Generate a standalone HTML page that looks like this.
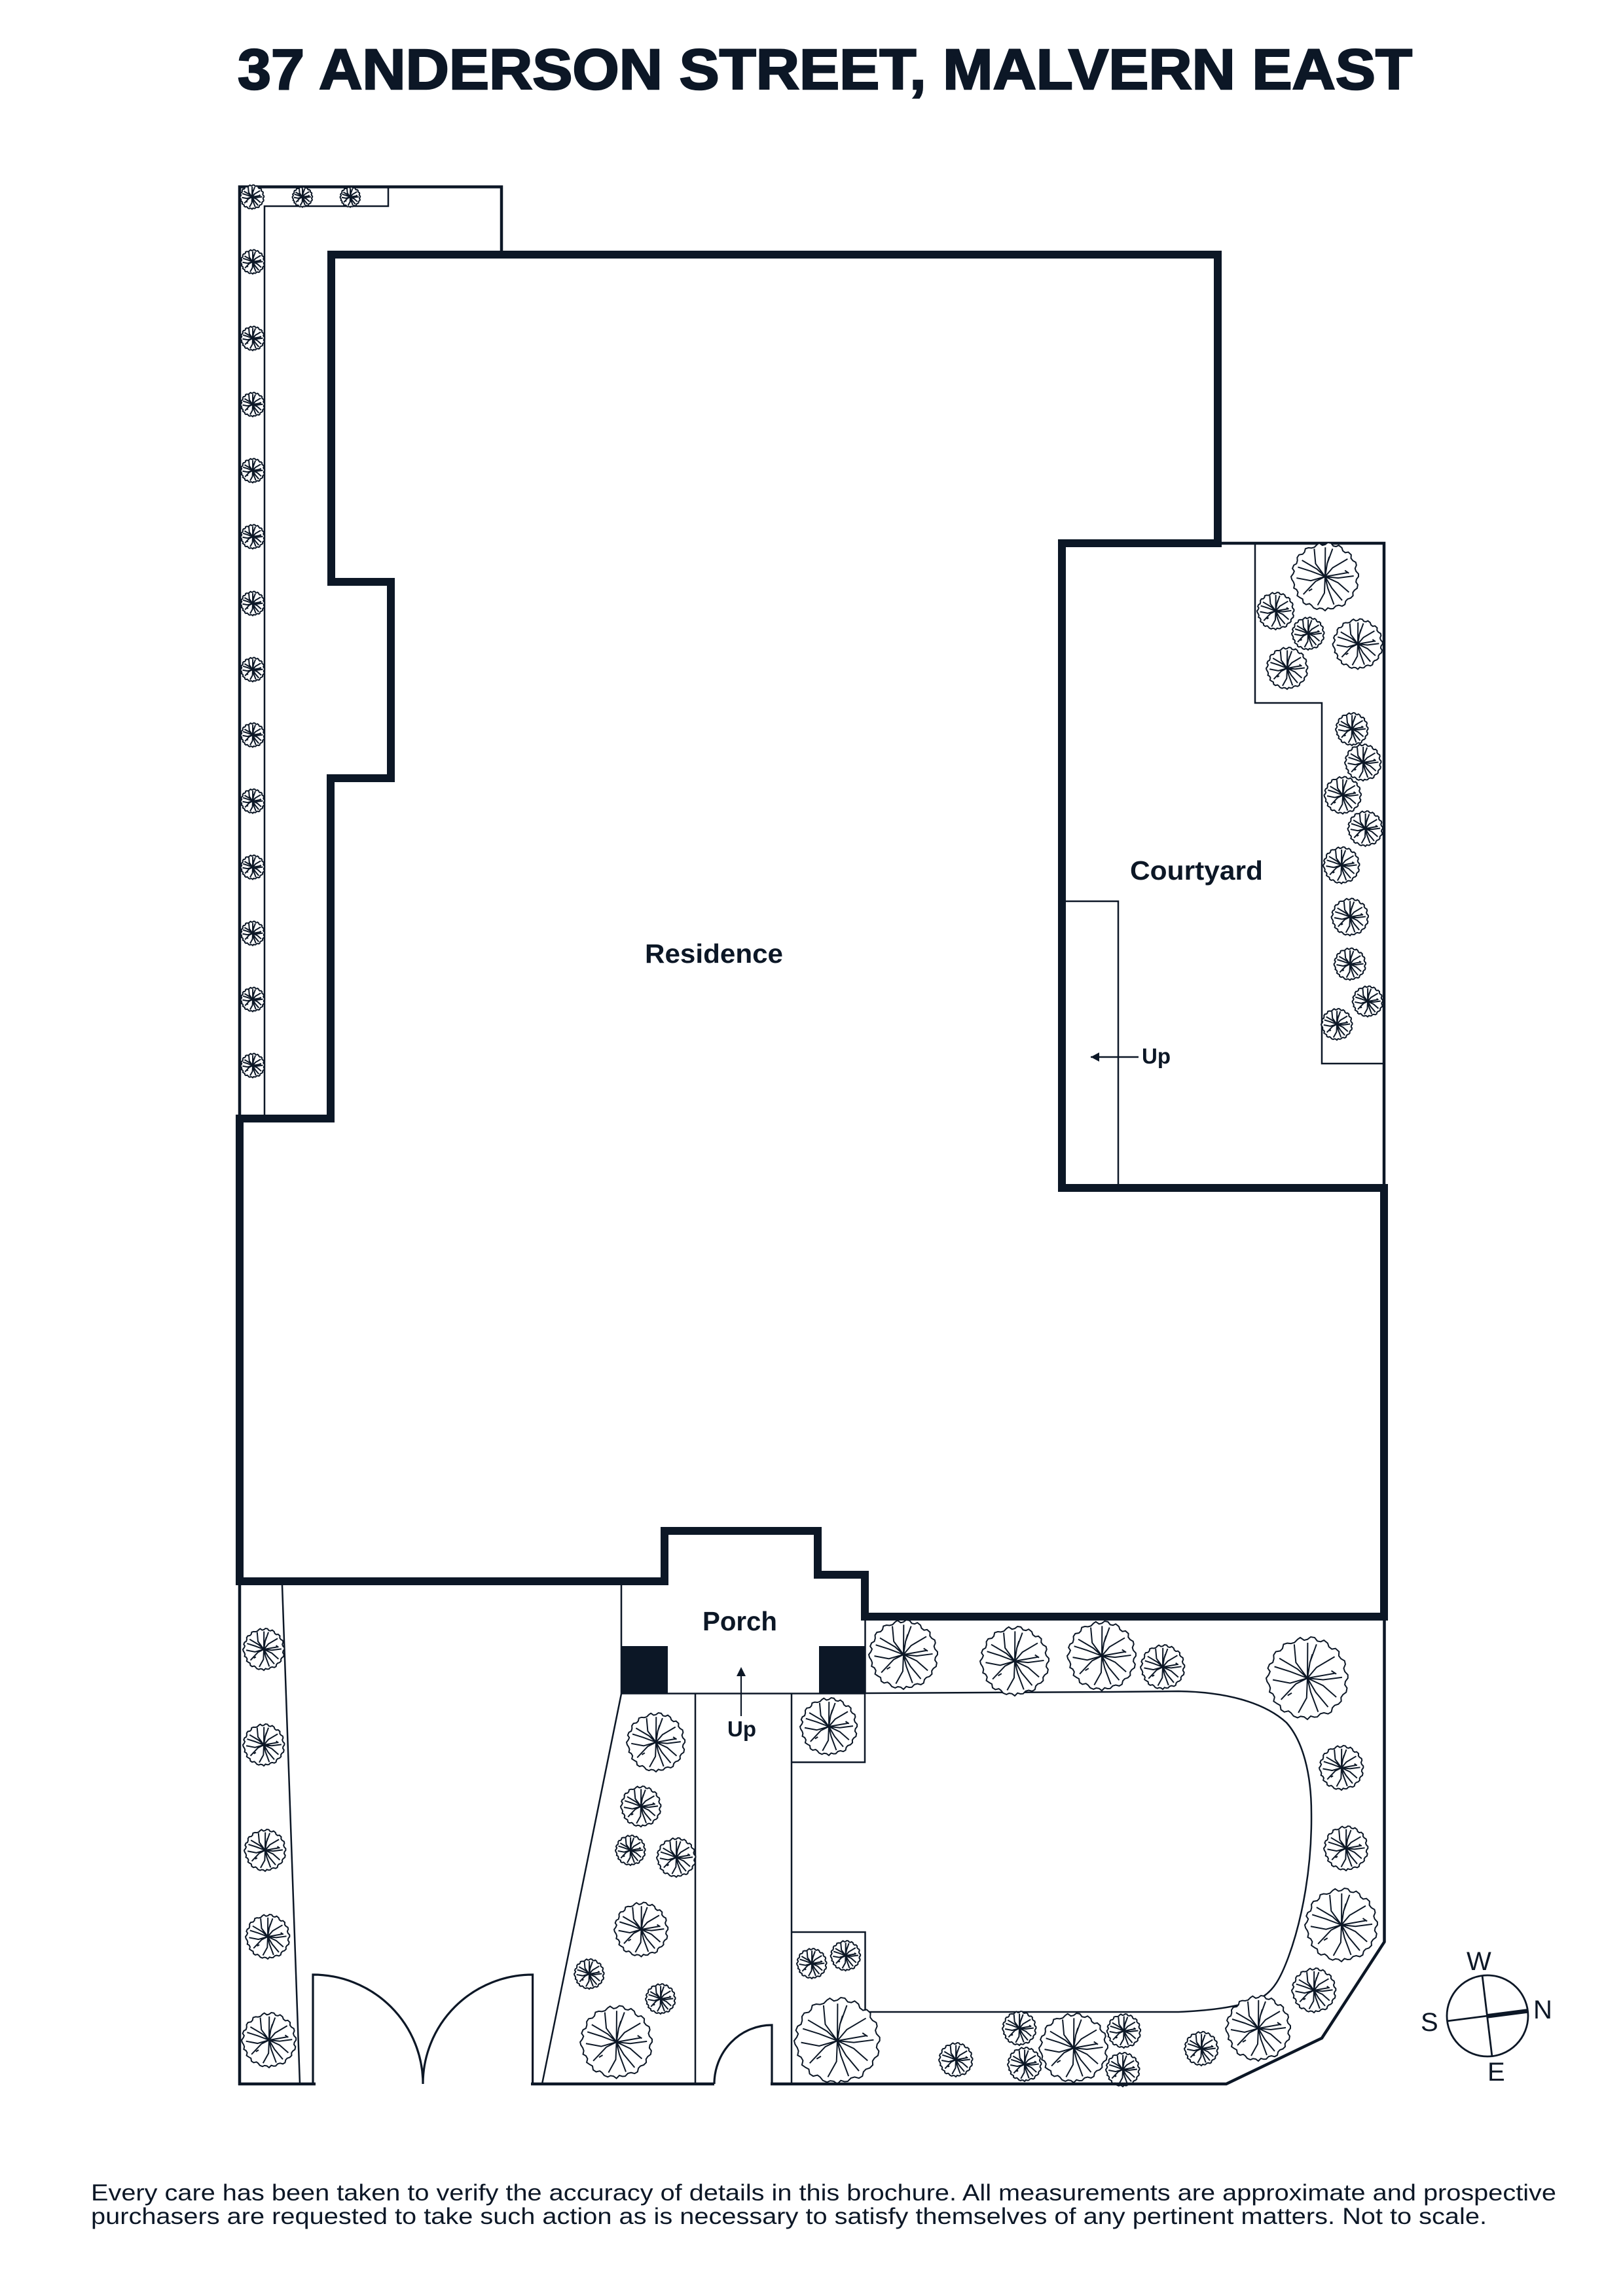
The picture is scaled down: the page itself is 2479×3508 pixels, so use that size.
<!DOCTYPE html>
<html><head><meta charset="utf-8"><title>37 Anderson Street, Malvern East</title>
<style>
html,body{margin:0;padding:0;background:#fff}
svg{display:block}
text{font-family:"Liberation Sans",sans-serif;fill:#0c1726}
.b{font-weight:700}
</style></head><body>
<svg xmlns="http://www.w3.org/2000/svg" width="2479" height="3508" viewBox="0 0 2479 3508">
<defs>
<g id="t" fill="none" stroke="#0c1726" stroke-width="2">
<polygon vector-effect="non-scaling-stroke" fill="#fff" points="49,0 46,4 45.3,8 48,12 47,17.1 43,20 40.7,23.5 41,28 37.5,31.5 33,33 30.2,36 29,41 25,43.3 20,42 15.7,43.2 12,47 8.3,47.3 4,46 0,50 -4,47 -8.2,46.3 -12,48 -16.8,46 -20,42 -23,39.8 -28,41 -32.1,38.3 -33,33 -36.8,30.9 -41,28 -39.8,23 -42,19 -46,16.8 -45,12 -46.3,8.2 -49,4 -50,0 -47,-4 -45.3,-8 -48,-12 -46,-16.8 -42,-19 -40.7,-23.5 -41,-28 -38.3,-32.1 -33,-33 -30.2,-36 -29,-41 -24.5,-42.4 -20,-42 -15.7,-43.2 -12,-47 -8.7,-49.2 -4,-46 0,-47 4,-50 8.7,-49.2 12,-45 16.1,-44.2 20,-46 24.5,-42.4 26,-38 29.6,-35.2 34,-36 38.3,-32.1 38,-27 40.7,-23.5 45,-21 46,-16.8 44,-12 45.3,-8 49,-4"/>
<path vector-effect="non-scaling-stroke" d="M0 0L-14 -19L-16 -41M0 0L0.3 -43M0 0L3 -19L11 -41M3 -19L6 -29M0 0L11 -13L33 -26M0 0L19 2L42 -1M0 0L34 -6M29 -9L35 -5M0 0L19 9L35 23M0 0L10 17L25 35M0 0L4 17L13 41M0 0L-1 24L-11 42M0 0L-14 7L-32 26M-24 21L-19 18M0 0L-21 6L-42 2M0 0L-21 -8L-40 -14M0 0L-12 -11L-34 -24"/>
</g>
</defs>

<rect width="2479" height="3508" fill="#fff"/>

<text class="b" x="363" y="136" font-size="87" textLength="1794" lengthAdjust="spacingAndGlyphs" style="stroke:#0c1726;stroke-width:2.5">37 ANDERSON STREET, MALVERN EAST</text>

<!-- thin lines -->
<g fill="none" stroke="#0c1726">
<path stroke-width="4.5" d="M366 1709V285.5H766V389"/>
<path stroke-width="2.5" d="M404 1709V315H593V285"/>
<path stroke-width="4.5" d="M1860 830H2114V1815"/>
<path stroke-width="2.5" d="M1917 830V1074H2019V1625H2114"/>
<path stroke-width="2.5" d="M1622 1377H1708V1815"/>
<path stroke-width="2.5" d="M1666 1615H1739"/>
<path stroke-width="4.5" d="M366 2416V3186"/>
<path stroke-width="2.5" d="M431 2422L458 3184"/>
<path stroke-width="2.5" d="M949 2416V2588L828 3184"/>
<path stroke-width="2.5" d="M1321.5 2470V2588"/>
<path stroke-width="2.5" d="M949 2587.5H1322"/>
<path stroke-width="2.5" d="M1062 2588V3184M1209 2588V3184M1209 2692.5H1321V2588M1209 2952H1321.5V3074"/>
<path stroke-width="2.5" d="M1322 2587L1700 2585L1800 2584C1870 2585 1930 2600 1965 2632C1990 2660 2003 2710 2003 2770C2004 2850 1990 2930 1968 2990C1955 3025 1945 3040 1930 3050C1900 3066 1850 3072 1800 3074L1322 3074"/>
<path stroke-width="2.2" d="M1132 2561V2622"/>
<path stroke-width="3.2" d="M478 3184V3017A168 167 0 0 1 646 3184M813.6 3184V3017A167.6 167 0 0 0 646 3184M1179 3184V3094A88 90 0 0 0 1091 3184"/>
</g>
<polygon points="1666,1615 1679,1608 1679,1622" fill="#0c1726"/>
<polygon points="1132,2547 1125,2561 1139,2561" fill="#0c1726"/>

<!-- trees -->
<use href="#t" transform="translate(385,301) scale(.37)"/>
<use href="#t" transform="translate(462,301) scale(.31)"/>
<use href="#t" transform="translate(535,301) scale(.31)"/>
<use href="#t" transform="translate(386,400) scale(.37)"/>
<use href="#t" transform="translate(386,517) scale(.37)"/>
<use href="#t" transform="translate(386,618) scale(.37)"/>
<use href="#t" transform="translate(386,719) scale(.37)"/>
<use href="#t" transform="translate(386,820) scale(.37)"/>
<use href="#t" transform="translate(386,922) scale(.37)"/>
<use href="#t" transform="translate(386,1023) scale(.37)"/>
<use href="#t" transform="translate(386,1123) scale(.37)"/>
<use href="#t" transform="translate(386,1224) scale(.37)"/>
<use href="#t" transform="translate(386,1325) scale(.37)"/>
<use href="#t" transform="translate(386,1426) scale(.37)"/>
<use href="#t" transform="translate(386,1527) scale(.37)"/>
<use href="#t" transform="translate(386,1628) scale(.37)"/>

<use href="#t" transform="translate(2024,881) scale(1.04)"/>
<use href="#t" transform="translate(1948.5,933.5) scale(.57)"/>
<use href="#t" transform="translate(1998,968) scale(.5)"/>
<use href="#t" transform="translate(2074,984) scale(.77)"/>
<use href="#t" transform="translate(1966,1021) scale(.64)"/>
<use href="#t" transform="translate(2065,1114) scale(.5)"/>
<use href="#t" transform="translate(2082,1165) scale(.56)"/>
<use href="#t" transform="translate(2051,1215) scale(.57)"/>
<use href="#t" transform="translate(2085.5,1266) scale(.54)"/>
<use href="#t" transform="translate(2049,1322) scale(.56)"/>
<use href="#t" transform="translate(2062,1401) scale(.57)"/>
<use href="#t" transform="translate(2062,1473) scale(.49)"/>
<use href="#t" transform="translate(2089,1530) scale(.47)"/>
<use href="#t" transform="translate(2042,1565) scale(.48)"/>

<use href="#t" transform="translate(403,2520) scale(.64)"/>
<use href="#t" transform="translate(403,2666) scale(.64)"/>
<use href="#t" transform="translate(405,2827) scale(.64)"/>
<use href="#t" transform="translate(409,2959) scale(.68)"/>
<use href="#t" transform="translate(411,3117) scale(.84)"/>

<use href="#t" transform="translate(1002,2662) scale(.9)"/>
<use href="#t" transform="translate(979,2760) scale(.62)"/>
<use href="#t" transform="translate(963,2827) scale(.46)"/>
<use href="#t" transform="translate(1033,2838) scale(.6)"/>
<use href="#t" transform="translate(979.5,2948) scale(.83)"/>
<use href="#t" transform="translate(900,3016) scale(.46)"/>
<use href="#t" transform="translate(1009,3054) scale(.46)"/>
<use href="#t" transform="translate(941.6,3120) scale(1.11)"/>

<use href="#t" transform="translate(1266,2638) scale(.88)"/>
<use href="#t" transform="translate(1380,2528) scale(1.06)"/>
<use href="#t" transform="translate(1550,2538) scale(1.06)"/>
<use href="#t" transform="translate(1683,2530) scale(1.06)"/>
<use href="#t" transform="translate(1776,2547) scale(.68)"/>
<use href="#t" transform="translate(1997,2564) scale(1.26)"/>
<use href="#t" transform="translate(2049,2701) scale(.68)"/>
<use href="#t" transform="translate(2056,2824) scale(.68)"/>
<use href="#t" transform="translate(2049,2941) scale(1.12)"/>
<use href="#t" transform="translate(2007,3041) scale(.68)"/>
<use href="#t" transform="translate(1922,3099) scale(1)"/>
<use href="#t" transform="translate(1835,3130) scale(.52)"/>
<use href="#t" transform="translate(1240,3000) scale(.46)"/>
<use href="#t" transform="translate(1291.6,2988) scale(.46)"/>
<use href="#t" transform="translate(1279,3118) scale(1.32)"/>
<use href="#t" transform="translate(1460,3147) scale(.52)"/>
<use href="#t" transform="translate(1557,3099) scale(.52)"/>
<use href="#t" transform="translate(1565,3154) scale(.52)"/>
<use href="#t" transform="translate(1640,3129) scale(1.06)"/>
<use href="#t" transform="translate(1716.6,3103) scale(.52)"/>
<use href="#t" transform="translate(1715,3162) scale(.52)"/>

<!-- bottom boundary -->
<path fill="none" stroke="#0c1726" stroke-width="4.5" d="M364 3184H482M811 3184H1091M1177 3184H1873L2019 3114L2114.5 2967V2470"/>

<!-- main thick wall -->
<path fill="none" stroke="#0c1726" stroke-width="12" stroke-linejoin="miter" d="M506 389H1860V830H1622V1815H2114V2470H1321V2406H1249V2339H1015V2416H366V1709H505V1189H597V889H506Z"/>

<!-- pillars -->
<rect x="949" y="2515" width="71" height="73" fill="#0c1726"/>
<rect x="1251" y="2515" width="71" height="73" fill="#0c1726"/>

<!-- labels -->
<text class="b" x="985" y="1471" font-size="41" textLength="211" lengthAdjust="spacingAndGlyphs">Residence</text>
<text class="b" x="1726" y="1344" font-size="41" textLength="203" lengthAdjust="spacingAndGlyphs">Courtyard</text>
<text class="b" x="1073" y="2491" font-size="41" textLength="114" lengthAdjust="spacingAndGlyphs">Porch</text>
<text class="b" x="1744" y="1625" font-size="33" textLength="44" lengthAdjust="spacingAndGlyphs">Up</text>
<text class="b" x="1111" y="2653" font-size="33" textLength="44" lengthAdjust="spacingAndGlyphs">Up</text>

<!-- compass -->
<g fill="none" stroke="#0c1726">
<circle cx="2272" cy="3080" r="62" stroke-width="2.8"/>
<path stroke-width="2.8" d="M2264 3018L2279 3142M2210 3088L2272 3080"/>
<path stroke-width="6.5" d="M2271 3080.5L2333 3072.5"/>
</g>
<text x="2240" y="3010" font-size="40">W</text>
<text x="2170" y="3103" font-size="40">S</text>
<text x="2342" y="3084" font-size="40">N</text>
<text x="2272" y="3179" font-size="40">E</text>

<!-- disclaimer -->
<text x="139" y="3362" font-size="35" textLength="2238" lengthAdjust="spacingAndGlyphs">Every care has been taken to verify the accuracy of details in this brochure. All measurements are approximate and prospective</text>
<text x="139" y="3398" font-size="35" textLength="2132" lengthAdjust="spacingAndGlyphs">purchasers are requested to take such action as is necessary to satisfy themselves of any pertinent matters. Not to scale.</text>
</svg>
</body></html>
